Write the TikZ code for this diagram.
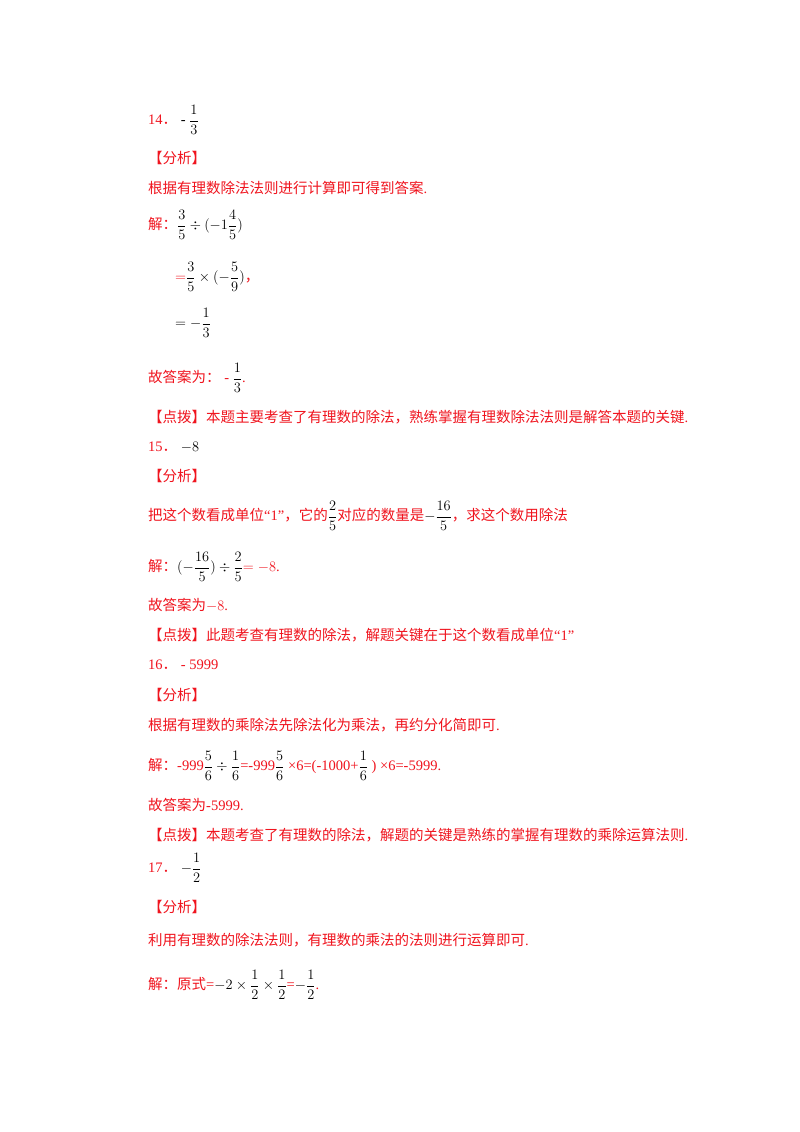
\documentclass[tikz,border=0pt]{standalone}
\usepackage{amsmath}
\usepackage{fontspec}
\setmainfont{Liberation Serif}
\newfontfamily\cjk{Noto Sans CJK SC}
\definecolor{ansred}{RGB}{240,20,30}
\newcommand{\zh}[1]{{\cjk #1}}
\newcommand{\bk}[1]{\textcolor{black}{#1}}
\begin{document}
\begin{tikzpicture}[x=1pt,y=-1pt,
  ln/.style={anchor=west,inner sep=0pt,text=ansred,font=\fontsize{14.5}{16}\selectfont}]
\useasboundingbox[fill=white] (0,0) rectangle (800,1132);
\node[ln] (a1) at (148,120) {14\zh{．}\ \bk{- $\dfrac{1}{3}$}};
\node[ln] (a2) at (148,158) {\zh{【分析】}};
\node[ln] (a3) at (148,188) {\zh{根据有理数除法法则进行计算即可得到答案}.};
\node[ln] (a4) at (148,225) {\zh{解：}\bk{$\dfrac{3}{5}\div(-1\dfrac{4}{5})$}};
\node[ln] (a5) at (175,277) {$=$\bk{$\dfrac{3}{5}\times(-\dfrac{5}{9})$}\zh{，}};
\node[ln] (a6) at (175,323) {\bk{$=-\dfrac{1}{3}$}};
\node[ln] (a7) at (148,378) {\zh{故答案为：} - \bk{$\dfrac{1}{3}$}.};
\node[ln] (a8) at (148,417) {\zh{【点拨】本题主要考查了有理数的除法，熟练掌握有理数除法法则是解答本题的关键}.};
\node[ln] (b1) at (148,447) {15\zh{．}\ \bk{$-8$}};
\node[ln] (b2) at (148,476) {\zh{【分析】}};
\node[ln] (b3) at (148,516) {\zh{把这个数看成单位}“1”\zh{，它的}\bk{$\dfrac{2}{5}$}\zh{对应的数量是}\bk{$-\dfrac{16}{5}$}\zh{，求这个数用除法}};
\node[ln] (b4) at (148,567) {\zh{解：}\bk{$(-\dfrac{16}{5})\div\dfrac{2}{5}$}$=-8$.};
\node[ln] (b5) at (148,605) {\zh{故答案为}$-8$.};
\node[ln] (b6) at (148,635) {\zh{【点拨】此题考查有理数的除法，解题关键在于这个数看成单位}“1”};
\node[ln] (c1) at (148,665) {16\zh{．}\ - 5999};
\node[ln] (c2) at (148,695) {\zh{【分析】}};
\node[ln] (c3) at (148,725) {\zh{根据有理数的乘除法先除法化为乘法，再约分化简即可}.};
\node[ln] (c4) at (148,766) {\zh{解：}-999\bk{$\dfrac{5}{6}\div\dfrac{1}{6}$}=-999\bk{$\dfrac{5}{6}$} ×6=(-1000+\bk{$\dfrac{1}{6}$} ) ×6=-5999.};
\node[ln] (c5) at (148,805) {\zh{故答案为}-5999.};
\node[ln] (c6) at (148,835) {\zh{【点拨】本题考查了有理数的除法，解题的关键是熟练的掌握有理数的乘除运算法则}.};
\node[ln] (d1) at (148,868) {17\zh{．}\ \bk{$-\dfrac{1}{2}$}};
\node[ln] (d2) at (148,907) {\zh{【分析】}};
\node[ln] (d3) at (148,940) {\zh{利用有理数的除法法则，有理数的乘法的法则进行运算即可}.};
\node[ln] (d4) at (148,985) {\zh{解：原式}=\bk{$-2\times\dfrac{1}{2}\times\dfrac{1}{2}$}=\bk{$-\dfrac{1}{2}$}.};
\end{tikzpicture}
\end{document}
